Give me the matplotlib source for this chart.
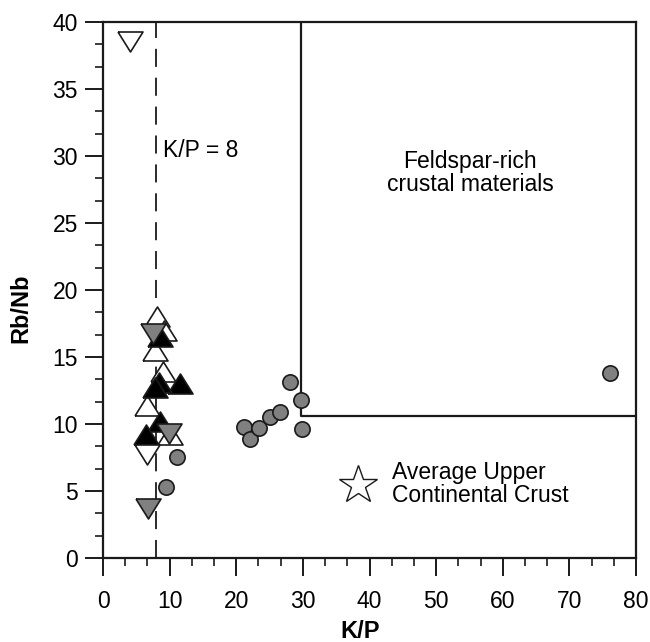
import matplotlib
matplotlib.use("Agg")
import matplotlib.pyplot as plt
from matplotlib.ticker import MultipleLocator

plt.rcParams["font.family"] = ["Liberation Sans", "DejaVu Sans"]

# open up-triangles
open_up_x = [8.1, 9.2, 7.8, 9.0, 6.6, 10.0]
open_up_y = [17.8, 16.8, 15.3, 13.7, 11.2, 9.0]

# black up-triangles
black_up_x = [8.6, 11.6, 8.4, 7.8, 8.6, 6.4]
black_up_y = [16.3, 12.8, 12.9, 12.5, 10.0, 9.0]

# gray down-triangles
gray_down_x = [7.5, 9.9, 6.7]
gray_down_y = [16.9, 9.5, 3.9]

# open down-triangles
open_down_x = [4.0, 6.6]
open_down_y = [38.7, 7.9]

# gray circles
circle_x = [11.1, 9.4, 21.1, 22.1, 23.4, 25.0, 26.5, 28.1, 29.7, 29.9, 76.1]
circle_y = [7.55, 5.3, 9.75, 8.9, 9.7, 10.5, 10.9, 13.1, 11.8, 9.6, 13.8]

# average upper continental crust
ucc_x = [38.3]
ucc_y = [5.45]

kp_line = 8
box_x = 29.7
box_y = 10.6

UP = [(-1, -0.6), (1, -0.6), (0, 1.0), (-1, -0.6)]
DOWN = [(-1, 0.6), (1, 0.6), (0, -1.0), (-1, 0.6)]
INK = "#1a1a1a"
GRAY = "#808080"


def main():
    fig = plt.figure(figsize=(6.5, 6.42), dpi=100)
    ax = fig.add_axes([0.1585, 0.131, 0.82, 0.835])

    ax.plot([kp_line, kp_line], [0, 40], color=INK, lw=1.3,
            linestyle=(0, (10, 6)), zorder=1)
    ax.plot([box_x, box_x, 80], [40, box_y, box_y], color=INK, lw=1.6,
            zorder=1)

    ms = 18
    ax.plot(open_up_x, open_up_y, linestyle="none", marker=UP, ms=ms,
            mfc="white", mec=INK, mew=1.2, zorder=3)
    ax.plot(black_up_x, black_up_y, linestyle="none", marker=UP, ms=ms,
            mfc="black", mec=INK, mew=1.2, zorder=4)
    ax.plot(gray_down_x, gray_down_y, linestyle="none", marker=DOWN, ms=ms,
            mfc=GRAY, mec=INK, mew=1.2, zorder=5)
    ax.plot(open_down_x, open_down_y, linestyle="none", marker=DOWN, ms=ms,
            mfc="white", mec=INK, mew=1.2, zorder=5)
    ax.plot(circle_x, circle_y, linestyle="none", marker="o", ms=11,
            mfc=GRAY, mec=INK, mew=1.2, zorder=6)
    ax.plot(ucc_x, ucc_y, linestyle="none", marker="*", ms=29,
            mfc="white", mec=INK, mew=1.0, zorder=6)

    fs = 16.5
    ax.text(9.0, 30.4, "K/P = 8", fontsize=fs, va="center", ha="left")
    ax.text(55.1, 28.7, "Feldspar-rich\ncrustal materials", fontsize=fs,
            ha="center", va="center", linespacing=1.0)
    ax.text(43.3, 5.5, "Average Upper\nContinental Crust", fontsize=fs,
            ha="left", va="center", linespacing=1.0)

    ax.set_xlim(0, 80)
    ax.set_ylim(0, 40)
    ax.xaxis.set_major_locator(MultipleLocator(10))
    ax.xaxis.set_minor_locator(MultipleLocator(10 / 3))
    ax.yaxis.set_major_locator(MultipleLocator(5))
    ax.yaxis.set_minor_locator(MultipleLocator(5 / 3))
    ax.tick_params(which="major", direction="out", length=13, width=1.4,
                   color=INK, labelsize=fs, pad=5)
    ax.tick_params(axis="x", which="major", pad=10)
    ax.tick_params(which="minor", direction="out", length=6, width=1.2,
                   color=INK)
    for side in ax.spines.values():
        side.set_linewidth(1.6)
        side.set_color(INK)

    ax.set_xlabel("K/P", fontsize=17, fontweight="bold")
    ax.set_ylabel("Rb/Nb", fontsize=17, fontweight="bold")
    ax.xaxis.set_label_coords(0.482, -0.116)
    ax.yaxis.set_label_coords(-0.133, 0.465)

    fig.savefig("out.png", dpi=100)


if __name__ == "__main__":
    main()
